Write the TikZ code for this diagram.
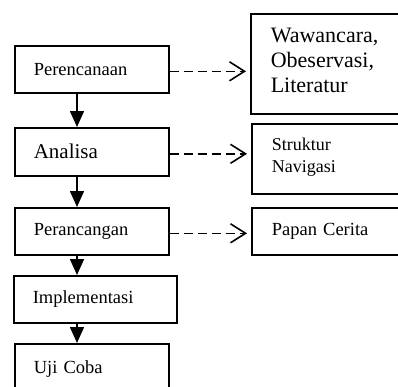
\documentclass[tikz,border=0pt]{standalone}
\usepackage{fontspec}
\setmainfont{Liberation Serif}
\usetikzlibrary{arrows.meta}
\begin{document}
\begin{tikzpicture}[x=1pt,y=-1pt,
  box/.style={draw, line width=1.6pt, anchor=north west, inner xsep=19pt, inner ysep=2pt, align=left,
    font=\fontsize{18.5}{21}\selectfont},
  downarr/.style={line width=1.6pt, -{Triangle[length=16pt,width=14pt]}},
  dasharr/.style={line width=1.6pt, dash pattern=on 9pt off 5pt, -{Straight Barb[length=15pt,width=19pt,line width=1.6pt]}, shorten >=4pt}]
\useasboundingbox (0,0) rectangle (398,386);
\clip (0,0) rectangle (398,386);
\node[box, text width=116pt, minimum height=47pt] (p1) at (14,45) {Perencanaan};
\node[box, text width=116pt, minimum height=48pt, font=\fontsize{21}{24}\selectfont] (p2) at (14,127) {Analisa};
\node[box, text width=116pt, minimum height=47pt] (p3) at (14,207) {Perancangan};
\node[box, text width=125pt, minimum height=47pt] (p4) at (13,275) {Implementasi};
\node[box, text width=116pt, minimum height=51pt] (p5) at (14,343) {Uji Coba};
\node[box, inner xsep=20pt, text width=120pt, minimum height=100pt, font=\fontsize{22}{25}\selectfont] (r1) at (250,13) {Wawancara,\\Obeservasi,\\Literatur\strut};
\node[box, inner xsep=20pt, text width=120pt, minimum height=70pt, font=\fontsize{18}{21.7}\selectfont] (r2) at (251,123) {Struktur\\Navigasi\strut};
\node[box, inner xsep=20pt, text width=120pt, minimum height=47pt] (r3) at (251,207) {Papan Cerita};
\coordinate (ax) at (77,0);
\draw[downarr] (p1.south -| ax) -- (p2.north -| ax);
\draw[downarr] (p2.south -| ax) -- (p3.north -| ax);
\draw[downarr] (p3.south -| ax) -- (p4.north -| ax);
\draw[downarr] (p4.south -| ax) -- (p5.north -| ax);
\draw[dasharr] ([yshift=-2pt]p1.east) -- ([yshift=-2pt]p1.east -| r1.west);
\draw[dasharr] ([yshift=-2pt]p2.east) -- ([yshift=-2pt]p2.east -| r2.west);
\draw[dasharr] ([yshift=-2pt]p3.east) -- ([yshift=-2pt]p3.east -| r3.west);
\end{tikzpicture}
\end{document}
